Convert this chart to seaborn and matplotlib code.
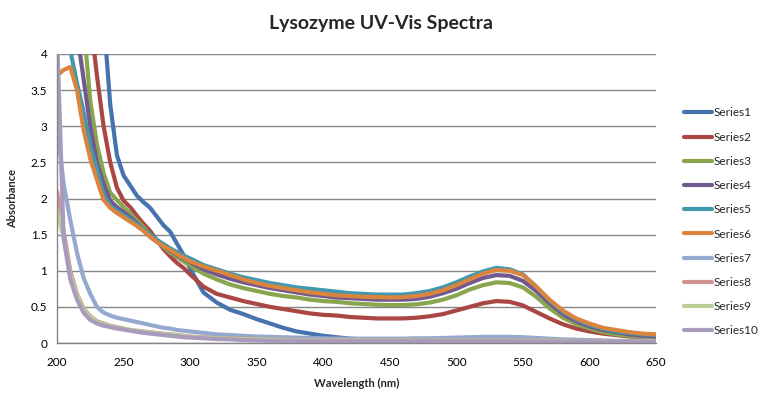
import matplotlib
matplotlib.use("Agg")
import pandas as pd
import matplotlib.pyplot as plt
import seaborn as sns

# ---------------------------
# Data
# ---------------------------
wavelength = list(range(200, 300, 5)) + list(range(300, 651, 10))

series1 = [4.5, 4.5, 4.5, 4.5, 4.5, 4.5, 4.5, 4.5, 3.3, 2.6, 2.32, 2.18, 2.04, 1.95, 1.87, 1.75, 1.63, 1.54, 1.38, 1.22,
           1.03, 0.7, 0.56, 0.46, 0.40, 0.33, 0.27, 0.21, 0.16, 0.13,
           0.10, 0.08, 0.06, 0.05, 0.04, 0.035, 0.03, 0.03, 0.03, 0.03,
           0.03, 0.03, 0.03, 0.03, 0.03, 0.03, 0.025, 0.02, 0.02, 0.02,
           0.02, 0.02, 0.02, 0.02, 0.02, 0.02]
series2 = [4.5, 4.5, 4.5, 4.5, 4.5, 4.5, 3.7, 3.0, 2.5, 2.15, 1.97, 1.88, 1.76, 1.65, 1.55, 1.42, 1.3, 1.2, 1.11, 1.04,
           0.95, 0.78, 0.68, 0.63, 0.58, 0.54, 0.5, 0.47, 0.44, 0.41,
           0.39, 0.38, 0.36, 0.35, 0.34, 0.34, 0.34, 0.35, 0.37, 0.40,
           0.45, 0.5, 0.55, 0.58, 0.57, 0.52, 0.43, 0.34, 0.26, 0.2,
           0.16, 0.13, 0.11, 0.09, 0.08, 0.07]
series3 = [4.5, 4.5, 4.5, 4.5, 4.4, 3.35, 2.75, 2.35, 2.08, 1.98, 1.88, 1.79, 1.7, 1.6, 1.5, 1.41, 1.33, 1.25, 1.19, 1.13,
           1.07, 0.96, 0.88, 0.81, 0.76, 0.72, 0.68, 0.65, 0.63, 0.60,
           0.58, 0.57, 0.55, 0.54, 0.53, 0.525, 0.525, 0.535, 0.56, 0.6,
           0.66, 0.74, 0.8, 0.84, 0.83, 0.77, 0.64, 0.48, 0.35, 0.26,
           0.2, 0.15, 0.12, 0.1, 0.08, 0.07]
series4 = [4.5, 4.5, 4.5, 4.3, 3.65, 3.0, 2.5, 2.2, 1.97, 1.88, 1.81, 1.74, 1.66, 1.56, 1.47, 1.4, 1.34, 1.28, 1.22, 1.17,
           1.12, 1.02, 0.95, 0.89, 0.84, 0.8, 0.76, 0.73, 0.7, 0.67,
           0.65, 0.63, 0.62, 0.61, 0.6, 0.6, 0.6, 0.61, 0.64, 0.69,
           0.75, 0.83, 0.9, 0.94, 0.93, 0.86, 0.72, 0.55, 0.4, 0.3,
           0.23, 0.18, 0.15, 0.12, 0.1, 0.09]
series5 = [4.3, 4.2, 4.05, 3.6, 3.2, 2.72, 2.4, 2.05, 1.9, 1.83, 1.77, 1.71, 1.64, 1.57, 1.5, 1.43, 1.37, 1.31, 1.26, 1.21,
           1.17, 1.08, 1.02, 0.96, 0.91, 0.87, 0.83, 0.8, 0.77, 0.75,
           0.73, 0.71, 0.69, 0.68, 0.67, 0.67, 0.67, 0.69, 0.72, 0.77,
           0.84, 0.92, 0.99, 1.04, 1.02, 0.95, 0.78, 0.59, 0.43, 0.33,
           0.25, 0.2, 0.16, 0.14, 0.12, 0.11]
series6 = [3.7, 3.78, 3.82, 3.5, 2.95, 2.55, 2.26, 1.98, 1.87, 1.8, 1.74, 1.68, 1.62, 1.55, 1.47, 1.4, 1.34, 1.29, 1.23, 1.18,
           1.13, 1.06, 1.0, 0.94, 0.88, 0.83, 0.79, 0.76, 0.73, 0.7,
           0.68, 0.66, 0.65, 0.64, 0.635, 0.63, 0.635, 0.65, 0.68, 0.73,
           0.8, 0.88, 0.96, 1.01, 1.0, 0.94, 0.78, 0.6, 0.45, 0.34,
           0.27, 0.21, 0.18, 0.15, 0.13, 0.12]
series7 = [3.0, 2.2, 1.7, 1.25, 0.9, 0.68, 0.5, 0.42, 0.38, 0.35, 0.33, 0.31, 0.29, 0.27, 0.25, 0.23, 0.21, 0.2, 0.18, 0.17,
           0.16, 0.14, 0.12, 0.11, 0.1, 0.09, 0.085, 0.08, 0.075, 0.07,
           0.065, 0.06, 0.06, 0.06, 0.06, 0.06, 0.06, 0.065, 0.065, 0.07,
           0.075, 0.08, 0.085, 0.085, 0.085, 0.08, 0.07, 0.06, 0.05, 0.045,
           0.04, 0.035, 0.03, 0.03, 0.03, 0.03]
series8 = [2.1, 1.55, 1.0, 0.68, 0.48, 0.37, 0.3, 0.27, 0.24, 0.22, 0.2, 0.18, 0.17, 0.16, 0.15, 0.14, 0.13, 0.12, 0.11, 0.1,
           0.09, 0.08, 0.07, 0.065, 0.06, 0.055, 0.05, 0.045, 0.045, 0.04,
           0.04, 0.04, 0.04, 0.04, 0.04, 0.04, 0.04, 0.04, 0.04, 0.04,
           0.04, 0.04, 0.04, 0.04, 0.04, 0.035, 0.035, 0.03, 0.03, 0.03,
           0.03, 0.03, 0.025, 0.025, 0.02, 0.02]
series9 = [1.85, 1.45, 0.95, 0.66, 0.47, 0.36, 0.29, 0.26, 0.235, 0.215, 0.195, 0.18, 0.165, 0.155, 0.145, 0.135, 0.125, 0.115, 0.105, 0.095,
           0.085, 0.075, 0.065, 0.06, 0.055, 0.05, 0.045, 0.04, 0.04, 0.035,
           0.035, 0.035, 0.035, 0.035, 0.035, 0.035, 0.035, 0.035, 0.035, 0.035,
           0.035, 0.035, 0.035, 0.035, 0.035, 0.03, 0.03, 0.03, 0.03, 0.025,
           0.025, 0.025, 0.02, 0.02, 0.02, 0.02]
series10 = [4.3, 1.45, 0.88, 0.6, 0.42, 0.32, 0.27, 0.24, 0.22, 0.2, 0.185, 0.17, 0.155, 0.14, 0.13, 0.12, 0.11, 0.1, 0.09, 0.08,
            0.075, 0.065, 0.055, 0.05, 0.04, 0.035, 0.03, 0.03, 0.03, 0.025,
            0.025, 0.025, 0.025, 0.025, 0.025, 0.025, 0.025, 0.025, 0.025, 0.025,
            0.025, 0.025, 0.025, 0.025, 0.025, 0.02, 0.02, 0.02, 0.02, 0.02,
            0.02, 0.02, 0.02, 0.02, 0.02, 0.02]

series_names = ["Series1", "Series2", "Series3", "Series4", "Series5",
                "Series6", "Series7", "Series8", "Series9", "Series10"]
all_series = [series1, series2, series3, series4, series5,
              series6, series7, series8, series9, series10]
colors = ["#4672AE", "#AA4643", "#89A54E", "#71588F", "#4198AF",
          "#DB843D", "#93A9CF", "#D19392", "#B9CD96", "#A99BBD"]

# long format table for seaborn
frames = []
for name, vals in zip(series_names, all_series):
    frames.append(pd.DataFrame({"Wavelength": wavelength, "Absorbance": vals, "Series": name}))
df = pd.concat(frames, ignore_index=True)

# ---------------------------
# Plot
# ---------------------------
sns.set_style("white")
plt.rcParams["font.family"] = ["Lato", "DejaVu Sans"]

fig = plt.figure(figsize=(7.72, 3.99), dpi=100)
ax = fig.add_axes([57 / 772, 1 - 343 / 399, 599 / 772, 289 / 399])

sns.lineplot(data=df, x="Wavelength", y="Absorbance", hue="Series",
             hue_order=series_names, palette=colors, linewidth=3.0,
             estimator=None, sort=False, legend=False, ax=ax)

ax.set_xlim(200, 650)
ax.set_ylim(0, 4)
ax.set_xticks(range(200, 651, 50))
ax.set_xticks([200 + 2.5 * i for i in range(181)], minor=True)
ax.set_yticks([0, 0.5, 1, 1.5, 2, 2.5, 3, 3.5, 4])
ax.set_yticklabels(["0", "0.5", "1", "1.5", "2", "2.5", "3", "3.5", "4"])

ax.yaxis.grid(True, color="#868686", linewidth=1)
ax.xaxis.grid(False)
for side in ["top", "right"]:
    ax.spines[side].set_visible(False)
for side in ["left", "bottom"]:
    ax.spines[side].set_color("#868686")
    ax.spines[side].set_linewidth(1)

ax.tick_params(axis="both", which="both", direction="out", color="#868686",
               labelsize=8.5, labelcolor="black")
ax.tick_params(axis="y", length=4, pad=3)
ax.tick_params(axis="x", which="major", length=4, pad=6)
ax.tick_params(axis="x", which="minor", length=4)

ax.set_xlabel("Wavelength (nm)", fontsize=8, fontweight="bold", labelpad=7)
ax.set_ylabel("Absorbance", fontsize=8, fontweight="bold", labelpad=9)

fig.text(0.494, 0.942, "Lysozyme UV-Vis Spectra", ha="center", va="center",
         fontsize=14, fontweight="bold")

handles = ax.get_lines()[:len(series_names)]
fig.legend(handles, series_names, loc="center left",
           bbox_to_anchor=(684 / 772, 1 - 222 / 399), frameon=False,
           fontsize=8.5, handlelength=2.4, handletextpad=0.15,
           labelspacing=1.12, borderpad=0, borderaxespad=0)

fig.savefig("out.png", dpi=100)
